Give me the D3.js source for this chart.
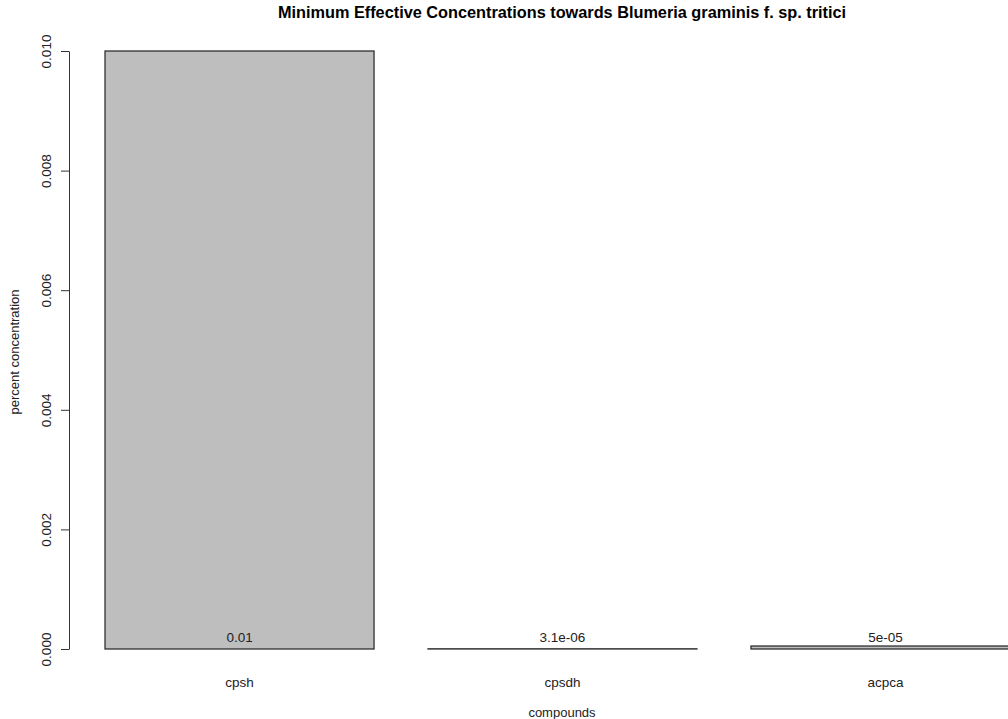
<!DOCTYPE html>
<html>
<head>
<meta charset="utf-8">
<script src="https://cdn.jsdelivr.net/npm/d3@7"></script>
<style>
	body { margin: 0; background: #fff; }
	text { font-family: "Liberation Sans", Arial, sans-serif; fill: #222; }
</style>
</head>
<body>
<script>
// chart data
var compounds = ["cpsh", "cpsdh", "acpca"];
var concentrations = [0.01, 0.0000031, 0.00005];
var valueLabels = ["0.01", "3.1e-06", "5e-05"];
var yTicks = [0, 0.002, 0.004, 0.006, 0.008, 0.010];

window.onload = function(){
	var w = 1008, h = 719;

	var svg = d3.select("body")
		.append("svg")
		.attr("width", w)
		.attr("height", h)
		.attr("class", "container");

	// scales
	var x = d3.scaleBand()
		.domain(compounds)
		.range([78, 1047])
		.paddingInner(0.167)
		.paddingOuter(0.0836);

	var y = d3.scaleLinear()
		.domain([0, 0.01])
		.range([649, 51]);

	// title
	svg.append("text")
		.attr("x", 562)
		.attr("y", 18)
		.attr("text-anchor", "middle")
		.style("font-size", "16.3px")
		.style("font-weight", "bold")
		.style("fill", "#000")
		.text("Minimum Effective Concentrations towards Blumeria graminis f. sp. tritici");

	// bars
	svg.selectAll(".bar")
		.data(concentrations)
		.enter()
		.append("rect")
		.attr("class", "bar")
		.attr("x", function(d, i){ return x(compounds[i]); })
		.attr("y", function(d){ return y(d); })
		.attr("width", x.bandwidth())
		.attr("height", function(d){ return y(0) - y(d); })
		.style("fill", "#bebebe")
		.style("stroke", "#222")
		.style("stroke-width", 1.2);

	// value labels above bars
	svg.selectAll(".vlabel")
		.data(valueLabels)
		.enter()
		.append("text")
		.attr("class", "vlabel")
		.attr("x", function(d, i){ return x(compounds[i]) + x.bandwidth() / 2; })
		.attr("y", 642)
		.attr("text-anchor", "middle")
		.style("font-size", "13.5px")
		.text(function(d){ return d; });

	// category labels
	svg.selectAll(".clabel")
		.data(compounds)
		.enter()
		.append("text")
		.attr("class", "clabel")
		.attr("x", function(d){ return x(d) + x.bandwidth() / 2; })
		.attr("y", 687)
		.attr("text-anchor", "middle")
		.style("font-size", "13.5px")
		.text(function(d){ return d; });

	// y axis
	var yAxis = svg.append("g")
		.attr("transform", "translate(69,0)")
		.call(d3.axisLeft(y)
			.tickValues(yTicks)
			.tickSize(8)
			.tickSizeOuter(0)
			.tickFormat(d3.format(".3f")));

	yAxis.select(".domain").style("stroke", "#333");
	yAxis.selectAll(".tick line").style("stroke", "#333");
	yAxis.selectAll(".tick text")
		.attr("x", null)
		.attr("dy", null)
		.attr("transform", "translate(-18,0) rotate(-90)")
		.attr("text-anchor", "middle")
		.style("font-family", "'Liberation Sans', Arial, sans-serif")
		.style("font-size", "13.5px")
		.style("fill", "#222");

	// axis titles
	svg.append("text")
		.attr("transform", "translate(19,352) rotate(-90)")
		.attr("text-anchor", "middle")
		.style("font-size", "13px")
		.text("percent concentration");

	svg.append("text")
		.attr("x", 562)
		.attr("y", 717)
		.attr("text-anchor", "middle")
		.style("font-size", "13px")
		.text("compounds");
};
</script>
</body>
</html>
